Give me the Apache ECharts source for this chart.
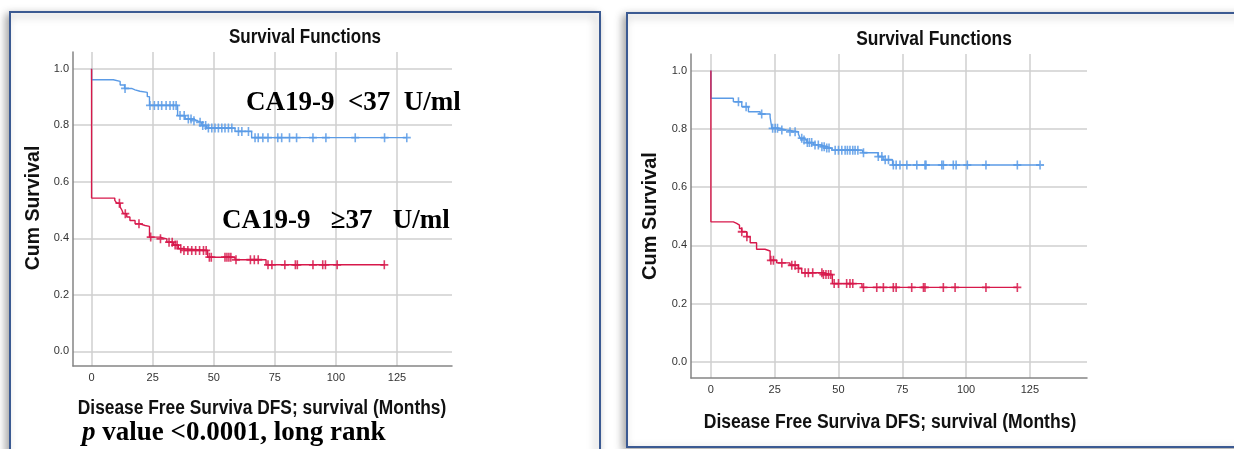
<!DOCTYPE html>
<html>
<head>
<meta charset="utf-8">
<title>Survival Functions</title>
<script src="https://cdn.jsdelivr.net/npm/echarts@6.0.0/dist/echarts.min.js"></script>
<style>
html, body { margin: 0; padding: 0; background: #ffffff; }
#main { width: 1234px; height: 449px; }
</style>
</head>
<body>
<div id="main"></div>
<script>
// tick values shared by both plots
var xTicks = [0, 25, 50, 75, 100, 125];
var yTicks = [0, 0.2, 0.4, 0.6, 0.8, 1.0];

// left plot, CA19-9 < 37 U/ml (blue): step times (months) and survival after each step
var leftLowT = [0, 0, 8.9, 11.7, 13.5, 16.4, 17.8, 19.8, 22.8, 23.7, 35.2, 38.3, 41.7, 43.0, 45.1, 47.1, 58.7, 65.5, 129];
var leftLowS = [1, 0.961, 0.955, 0.942, 0.930, 0.925, 0.920, 0.916, 0.901, 0.870, 0.834, 0.822, 0.816, 0.810, 0.799, 0.790, 0.778, 0.756, 0.756];
var leftLowC = [13.7, 23.9, 25.7, 27.3, 28.7, 30.5, 32.1, 33.5, 34.6, 36.2, 37.9, 39.6, 40.7, 41.9, 44.4, 45.5, 46.7, 47.8, 49.2, 50.5, 51.9, 53.3, 54.6, 56.0, 57.4, 60.1, 61.5, 64.2, 66.9, 68.2, 70.1, 72.2, 76.2, 77.8, 81.0, 83.9, 90.6, 95.9, 107.9, 119.9, 129.0];

// left plot, CA19-9 >= 37 U/ml (red)
var leftHighT = [0, 0, 9.5, 10.3, 11.7, 12.4, 13.0, 14.4, 15.7, 17.8, 19.8, 21.9, 23.7, 28.0, 30.8, 33.5, 35.5, 37.6, 47.5, 58.7, 71.4, 120];
var leftHighS = [1, 0.542, 0.534, 0.524, 0.510, 0.500, 0.487, 0.475, 0.463, 0.451, 0.445, 0.442, 0.404, 0.398, 0.386, 0.376, 0.363, 0.357, 0.333, 0.324, 0.306, 0.306];
var leftHighC = [11.4, 13.8, 19.4, 24.2, 28.2, 31.7, 33.0, 34.2, 35.0, 36.5, 37.8, 39.4, 41.0, 42.6, 44.2, 45.8, 46.9, 48.2, 49.0, 54.6, 55.4, 56.2, 57.0, 59.1, 65.0, 66.6, 68.2, 72.2, 73.8, 79.1, 83.4, 84.2, 90.6, 94.6, 95.7, 100.5, 119.8];

// right plot, blue group
var rightLowT = [0, 0, 8.8, 12.1, 14.7, 19.3, 23.2, 23.9, 26.5, 29.7, 34.3, 35.0, 36.3, 37.6, 40.2, 42.8, 45.4, 47.4, 59.5, 65.5, 67.5, 71.2, 129];
var rightLowS = [1, 0.905, 0.893, 0.876, 0.859, 0.851, 0.840, 0.802, 0.796, 0.790, 0.782, 0.768, 0.762, 0.753, 0.745, 0.739, 0.734, 0.727, 0.718, 0.705, 0.694, 0.676, 0.676];
var rightLowC = [10.8, 13.8, 19.9, 24.2, 25.2, 26.1, 27.8, 31.0, 33.0, 35.6, 36.5, 37.8, 38.6, 39.5, 40.8, 42.1, 43.5, 44.4, 45.4, 46.3, 48.7, 50.0, 51.3, 52.6, 53.5, 54.5, 55.6, 56.5, 57.6, 59.8, 65.6, 67.0, 68.3, 69.6, 71.5, 72.6, 74.1, 76.8, 80.7, 83.9, 84.3, 90.5, 91.1, 95.0, 96.1, 100.5, 107.8, 120.1, 129.0];

// right plot, red group
var rightHighT = [0, 0, 8.8, 10.1, 11.2, 12.1, 14.1, 15.4, 17.9, 21.2, 23.2, 25.8, 31.0, 34.3, 35.6, 44.0, 47.6, 59.2, 120];
var rightHighS = [1, 0.481, 0.476, 0.470, 0.458, 0.447, 0.430, 0.409, 0.387, 0.381, 0.349, 0.340, 0.332, 0.321, 0.306, 0.300, 0.269, 0.256, 0.256];
var rightHighC = [12.1, 14.1, 23.5, 24.5, 27.8, 31.7, 33.0, 34.3, 36.9, 38.2, 39.9, 43.5, 44.1, 45.1, 46.1, 47.0, 48.3, 50.0, 53.2, 54.5, 55.6, 59.8, 65.0, 67.6, 71.5, 72.6, 78.7, 83.3, 83.9, 91.1, 95.7, 107.8, 120.1];

var BLUE = '#5b9be6';
var RED = '#d7194b';
var PLUS = 'path://M4,0H6V4H10V6H6V10H4V6H0V4H4Z';
var SANS = '"Liberation Sans", Arial, sans-serif';
var SERIF = '"Liberation Serif", "Times New Roman", serif';

function pairs(T, S) {
  return T.map(function (t, i) { return [t, S[i]]; });
}
// censor marks sit on the step curve at their time
function levelAt(T, S, t) {
  var v = S[0];
  for (var i = 0; i < T.length; i++) { if (T[i] <= t) v = S[i]; }
  return v;
}
function censors(T, S, C) {
  return C.map(function (t) { return [t, levelAt(T, S, t)]; });
}

function xAxisFor(idx, min, max) {
  return {
    type: 'value', gridIndex: idx, min: min, max: max,
    axisLine: { show: true, onZero: false, lineStyle: { color: '#858585', width: 1.5 } },
    axisTick: { show: false, customValues: xTicks },
    axisLabel: { customValues: xTicks, color: '#333', fontSize: 11, fontFamily: SANS, margin: 6 },
    splitLine: { show: true, lineStyle: { color: '#cfcfcf', width: 1.5 } }
  };
}
function yAxisFor(idx, min, max) {
  return {
    type: 'value', gridIndex: idx, min: min, max: max,
    axisLine: { show: true, onZero: false, lineStyle: { color: '#858585', width: 1.5 } },
    axisTick: { show: false, customValues: yTicks },
    axisLabel: { customValues: yTicks, color: '#333', fontSize: 11, fontFamily: SANS, margin: 4,
      formatter: function (v) { return v.toFixed(1); } },
    splitLine: { show: true, lineStyle: { color: '#cfcfcf', width: 1.5 } }
  };
}
function stepLine(idx, T, S, color, z) {
  return {
    type: 'line', xAxisIndex: idx, yAxisIndex: idx, step: 'end', showSymbol: false,
    data: pairs(T, S), lineStyle: { color: color, width: 1.4 }, z: z, silent: true
  };
}
function plusMarks(idx, T, S, C, color) {
  return {
    type: 'scatter', xAxisIndex: idx, yAxisIndex: idx, symbol: PLUS, symbolSize: [8, 9],
    data: censors(T, S, C), itemStyle: { color: color, opacity: 0.85 }, z: 5, silent: true
  };
}
function label(x, y, text, size, sx, rot) {
  return {
    type: 'text', x: x, y: y, scaleX: sx || 1, rotation: rot || 0, z: 50,
    style: { x: 0, y: 0, text: text, fill: '#111', fontFamily: SANS, fontWeight: 'bold',
      fontSize: size, align: 'center', verticalAlign: 'middle' }
  };
}

var chart = echarts.init(document.getElementById('main'), null, { renderer: 'canvas' });
chart.setOption({
  animation: false,
  backgroundColor: '#ffffff',
  grid: [
    { left: 73, top: 52, width: 379, height: 314 },
    { left: 691, top: 54, width: 396, height: 324 }
  ],
  xAxis: [xAxisFor(0, -7.6, 147.5), xAxisFor(1, -7.8, 147.4)],
  yAxis: [yAxisFor(0, -0.052, 1.059), yAxisFor(1, -0.055, 1.057)],
  series: [
    stepLine(0, leftLowT, leftLowS, BLUE, 3),
    stepLine(0, leftHighT, leftHighS, RED, 4),
    plusMarks(0, leftLowT, leftLowS, leftLowC, BLUE),
    plusMarks(0, leftHighT, leftHighS, leftHighC, RED),
    stepLine(1, rightLowT, rightLowS, BLUE, 3),
    stepLine(1, rightHighT, rightHighS, RED, 4),
    plusMarks(1, rightLowT, rightLowS, rightLowC, BLUE),
    plusMarks(1, rightHighT, rightHighS, rightHighC, RED)
  ],
  graphic: [
    // panel frames
    { type: 'rect', z: -10, shape: { x: 10, y: 12, width: 590, height: 470 },
      style: { fill: '#fff', stroke: '#3b5a92', lineWidth: 2, shadowBlur: 8,
        shadowColor: 'rgba(0,0,0,0.35)', shadowOffsetX: -3, shadowOffsetY: 3 } },
    { type: 'rect', z: -10, shape: { x: 627, y: 13, width: 640, height: 434 },
      style: { fill: '#fff', stroke: '#3b5a92', lineWidth: 2, shadowBlur: 8,
        shadowColor: 'rgba(0,0,0,0.35)', shadowOffsetX: -3, shadowOffsetY: 3 } },
    // titles and axis names
    label(305, 37, 'Survival Functions', 20, 0.85),
    label(934, 39, 'Survival Functions', 20, 0.87),
    label(34, 208, 'Cum Survival', 19.5, 1, Math.PI / 2),
    label(650, 216, 'Cum Survival', 20, 1, Math.PI / 2),
    label(262, 409, 'Disease Free Surviva DFS; survival (Months)', 19.5, 0.89),
    label(890, 423, 'Disease Free Surviva DFS; survival (Months)', 19.5, 0.9),
    // group labels and test result
    { type: 'text', x: 246, y: 103, z: 50,
      style: { x: 0, y: 0, text: 'CA19-9  <37  U/ml', fill: '#000', fontFamily: SERIF,
        fontWeight: 'bold', fontSize: 27, align: 'left', verticalAlign: 'middle' } },
    { type: 'text', x: 222, y: 221, z: 50,
      style: { x: 0, y: 0, text: 'CA19-9   \u226537   U/ml', fill: '#000', fontFamily: SERIF,
        fontWeight: 'bold', fontSize: 27, align: 'left', verticalAlign: 'middle' } },
    { type: 'text', x: 82, y: 433, z: 50,
      style: { x: 0, y: 0, text: '{i|p} value <0.0001, long rank', fill: '#000', fontFamily: SERIF,
        fontWeight: 'bold', fontSize: 27, align: 'left', verticalAlign: 'middle',
        rich: { i: { fontStyle: 'italic', fontFamily: SERIF, fontWeight: 'bold', fontSize: 27, fill: '#000' } } } }
  ]
});
</script>
</body>
</html>
